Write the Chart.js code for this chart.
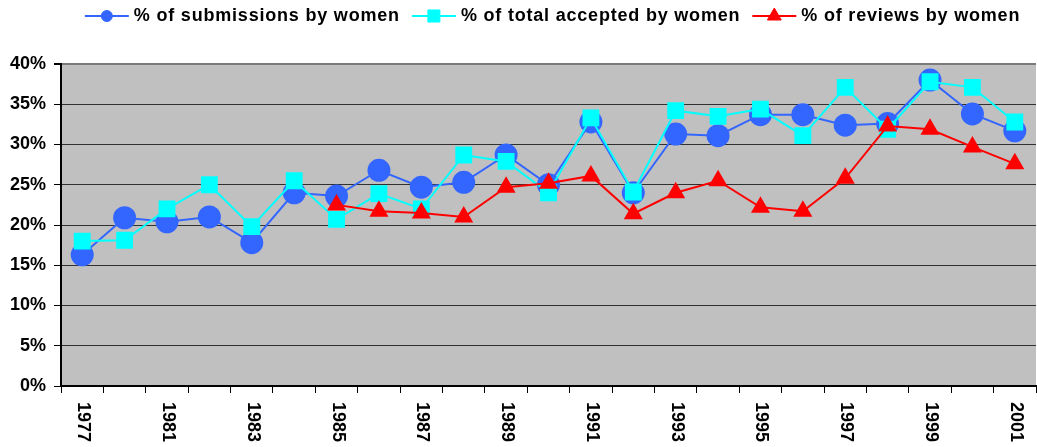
<!DOCTYPE html>
<html>
<head>
<meta charset="utf-8">
<script src="https://cdn.jsdelivr.net/npm/chart.js@4.4.1/dist/chart.umd.min.js"></script>
<style>
  body { margin: 0; background: #fff; }
  #wrap { width: 1037px; height: 447px; position: relative; }
</style>
</head>
<body>
<div id="wrap"><canvas id="womenChart"></canvas></div>
<script>
const years = ['1977', '1979', '1981', '1982', '1983', '1984', '1985', '1986', '1987', '1988', '1989', '1990',
  '1991', '1992', '1993', '1994', '1995', '1996', '1997', '1998', '1999', '2000', '2001'];

const submissions = [16.3, 20.9, 20.4, 21.0, 17.8, 24.0, 23.6, 26.8, 24.7, 25.3, 28.7, 25.0,
  32.8, 24.0, 31.3, 31.1, 33.7, 33.7, 32.4, 32.6, 38.0, 33.8, 31.7];

const accepted = [18.0, 18.1, 22.0, 25.0, 19.8, 25.5, 20.7, 23.9, 22.0, 28.7, 27.9, 24.0,
  33.3, 24.1, 34.2, 33.5, 34.4, 31.1, 37.1, 31.9, 37.8, 37.1, 32.8];

const reviews = [null, null, null, null, null, null, 22.5, 21.7, 21.5, 21.0, 24.7, 25.2,
  26.1, 21.4, 24.0, 25.5, 22.2, 21.7, 25.8, 32.3, 31.9, 29.7, 27.6];

const FONT = '"Liberation Sans", Arial, sans-serif';

// grey plot area like the old excel chart
const plotBgPlugin = {
  id: 'plotBg',
  beforeDraw(chart) {
    const { ctx, chartArea: a } = chart;
    ctx.save();
    ctx.fillStyle = '#C0C0C0';
    ctx.fillRect(a.left, a.top, a.right - a.left, a.bottom - a.top);
    ctx.restore();
  },
};

// year labels read top to bottom, every second category
const yearLabelsPlugin = {
  id: 'yearLabels',
  afterDraw(chart) {
    const ctx = chart.ctx;
    const xs = chart.scales.x;
    ctx.save();
    ctx.font = 'bold 18px ' + FONT;
    ctx.fillStyle = '#000';
    years.forEach((y, i) => {
      if (i % 2) return;
      ctx.save();
      ctx.translate(xs.getPixelForValue(i) + 1, xs.bottom + 9);
      ctx.rotate(Math.PI / 2);
      ctx.textAlign = 'left';
      ctx.textBaseline = 'middle';
      ctx.fillText(y, 0, 0);
      ctx.restore();
    });
    ctx.restore();
  },
};

// legend with line + marker, drawn by hand
const lineLegendPlugin = {
  id: 'lineLegend',
  afterDraw(chart) {
    const ctx = chart.ctx;
    const a = chart.chartArea;
    const sets = chart.data.datasets;
    const lineW = 44, gap = 5, itemGap = 12, y = 16;
    ctx.save();
    ctx.font = 'bold 18px ' + FONT;
    if ('letterSpacing' in ctx) ctx.letterSpacing = '0.8px';
    const widths = sets.map((ds) => lineW + gap + ctx.measureText(ds.label).width);
    const total = widths.reduce((s, w) => s + w, 0) + itemGap * (sets.length - 1);
    let x = (a.left + a.right) / 2 + 4 - total / 2;
    sets.forEach((ds, i) => {
      ctx.strokeStyle = ds.borderColor;
      ctx.lineWidth = 2;
      ctx.beginPath();
      ctx.moveTo(x, y);
      ctx.lineTo(x + lineW, y);
      ctx.stroke();
      ctx.fillStyle = ds.pointBackgroundColor;
      ctx.strokeStyle = ds.pointBorderColor;
      ctx.lineWidth = 1;
      Chart.helpers.drawPoint(ctx, { pointStyle: ds.pointStyle, radius: ds.legendRadius, rotation: 0, borderWidth: 1 }, x + lineW / 2, y);
      ctx.fillStyle = '#000';
      ctx.textAlign = 'left';
      ctx.textBaseline = 'middle';
      ctx.fillText(ds.label, x + lineW + gap, y);
      x += widths[i] + itemGap;
    });
    ctx.restore();
  },
};

const ctx = document.getElementById('womenChart').getContext('2d');

new Chart(ctx, {
  type: 'line',
  data: {
    labels: years,
    datasets: [
      {
        label: '% of submissions by women',
        data: submissions,
        borderColor: '#3366FF',
        pointBackgroundColor: '#3366FF',
        pointBorderColor: '#3366FF',
        borderWidth: 2,
        pointStyle: 'circle',
        pointRadius: 10.5,
        legendRadius: 5.5,
        tension: 0,
        order: 2,
      },
      {
        label: '% of total accepted by women',
        data: accepted,
        borderColor: '#00FFFF',
        pointBackgroundColor: '#00FFFF',
        pointBorderColor: '#00FFFF',
        borderWidth: 2,
        pointStyle: 'rect',
        pointRadius: 10.5,
        legendRadius: 8.5,
        tension: 0,
        order: 1,
      },
      {
        label: '% of reviews by women',
        data: reviews,
        borderColor: '#FF0000',
        pointBackgroundColor: '#FF0000',
        pointBorderColor: '#FF0000',
        borderWidth: 2,
        pointStyle: 'triangle',
        pointRadius: 9,
        legendRadius: 8,
        tension: 0,
        spanGaps: false,
        order: 0,
      },
    ],
  },
  options: {
    responsive: true,
    maintainAspectRatio: false,
    animation: false,
    layout: {
      autoPadding: false,
      padding: { top: 64, left: 2, right: 1, bottom: 54 },
    },
    plugins: {
      legend: { display: false },
      tooltip: { enabled: false },
    },
    scales: {
      x: {
        offset: true,
        grid: {
          offset: true,
          drawOnChartArea: false,
          tickLength: 7,
          tickColor: '#000',
          color: '#000',
        },
        border: { color: '#000', width: 2 },
        ticks: { display: false },
      },
      y: {
        min: 0,
        max: 40,
        grid: {
          color: (c) => (c.tick && c.tick.value === 40 ? '#7a7a7a' : '#303030'),
          lineWidth: (c) => (c.tick && c.tick.value === 40 ? 2 : 1),
          tickLength: 7,
          tickColor: '#000',
        },
        border: { color: '#000', width: 2 },
        ticks: {
          stepSize: 5,
          padding: 8,
          color: '#000',
          font: { family: FONT, size: 18, weight: 'bold' },
          callback: (v) => v + '%',
        },
      },
    },
  },
  plugins: [plotBgPlugin, yearLabelsPlugin, lineLegendPlugin],
});
</script>
</body>
</html>
